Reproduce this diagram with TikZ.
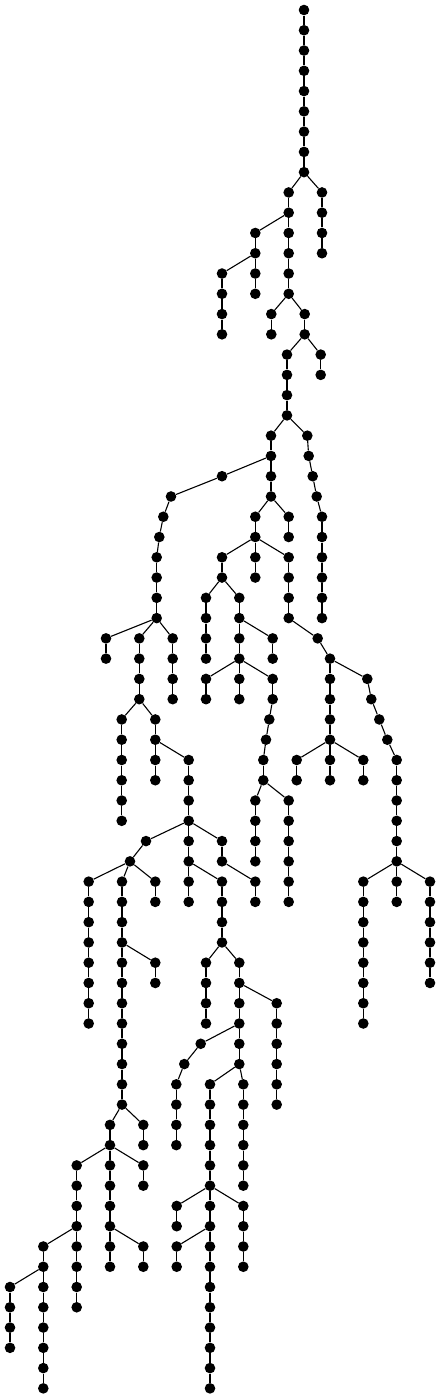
\documentclass[tikz,border=0pt]{standalone}
\tikzset{dot/.style={circle,fill=black,draw=none,inner sep=0pt,minimum size=10.6pt},
  edge/.style={line width=1.1pt,black}}
\newcommand\chain[4]{%
  \foreach \lv in {#3,...,#4}{%
    \node[dot] (L\lv X#1) at (#2,{10+20.27*\lv}) {};
    \ifnum\lv>#3\relax
      \pgfmathtruncatemacro\lq{\lv-1}%
      \draw[edge] (L\lq X#1) -- (L\lv X#1);
    \fi
  }%
}
\newcommand\br[2]{\draw[edge] (#1) -- (#2);}
\begin{document}
\begin{tikzpicture}[x=1pt,y=-1pt]
\useasboundingbox (0,0) rectangle (440,1398);
\chain{304}{304}{0}{8}
\chain{289}{288.7}{9}{14}
\chain{322}{322}{9}{12}
\chain{255}{255.3}{11}{14}
\chain{222}{222}{13}{16}
\chain{271}{271.3}{15}{16}
\chain{305}{304.7}{15}{16}
\chain{287}{287}{17}{20}
\chain{321}{320.7}{17}{18}
\chain{271}{271}{21}{24}
\chain{307}{307.3}{21}{21}
\chain{309}{308.7}{22}{22}
\chain{313}{312.7}{23}{23}
\chain{317}{316.7}{24}{24}
\chain{322}{322}{25}{30}
\chain{222}{222}{23}{23}
\chain{171}{171}{24}{24}
\chain{163}{163.3}{25}{25}
\chain{159}{159.3}{26}{26}
\chain{157}{156.7}{27}{30}
\chain{255}{255.3}{25}{28}
\chain{289}{288.7}{25}{26}
\chain{222}{222}{27}{28}
\chain{289}{288.7}{27}{30}
\chain{206}{206}{29}{32}
\chain{239}{239.3}{29}{34}
\chain{106}{106}{31}{32}
\chain{139}{139.3}{31}{34}
\chain{173}{172.7}{31}{34}
\chain{273}{272.7}{31}{32}
\chain{318}{317.7}{31}{31}
\chain{330}{330}{32}{38}
\chain{206}{206}{33}{34}
\chain{273}{272.7}{33}{34}
\chain{367}{367.3}{33}{33}
\chain{371}{371.3}{34}{34}
\chain{379}{379.3}{35}{35}
\chain{387}{387.3}{36}{36}
\chain{397}{396.7}{37}{44}
\chain{122}{121.7}{35}{40}
\chain{155}{155.3}{35}{38}
\chain{269}{269.3}{35}{35}
\chain{266}{266}{36}{36}
\chain{263}{263.3}{37}{38}
\chain{189}{188.7}{37}{44}
\chain{297}{296.7}{37}{38}
\chain{363}{363.3}{37}{38}
\chain{255}{255.3}{39}{42}
\chain{289}{288.7}{39}{44}
\chain{146}{146}{41}{41}
\chain{130}{130}{42}{42}
\chain{222}{222}{41}{42}
\chain{89}{88.7}{43}{50}
\chain{122}{122}{43}{54}
\chain{155}{155.3}{43}{44}
\chain{222}{222}{43}{46}
\chain{255}{255.3}{43}{44}
\chain{363}{363.3}{43}{50}
\chain{430}{430}{43}{48}
\chain{155}{155.3}{47}{48}
\chain{206}{206}{47}{50}
\chain{239}{239.3}{47}{52}
\chain{277}{276.7}{49}{54}
\chain{201}{200.7}{51}{51}
\chain{184}{184.3}{52}{52}
\chain{176}{176.3}{53}{56}
\chain{210}{210}{53}{68}
\chain{243}{243.3}{53}{58}
\chain{110}{110}{55}{62}
\chain{143}{143.3}{55}{56}
\chain{77}{76.7}{57}{64}
\chain{143}{143.3}{57}{58}
\chain{177}{176.7}{59}{60}
\chain{243}{243.3}{59}{62}
\chain{43}{43.3}{61}{68}
\chain{143}{143.3}{61}{62}
\chain{177}{176.7}{61}{62}
\chain{10}{10}{63}{66}
% branch edges
\br{L8X304}{L9X289}\br{L8X304}{L9X322}
\br{L10X289}{L11X255}
\br{L12X255}{L13X222}
\br{L14X289}{L15X271}\br{L14X289}{L15X305}
\br{L16X305}{L17X287}\br{L16X305}{L17X321}
\br{L20X287}{L21X271}\br{L20X287}{L21X307}
\br{L21X307}{L22X309}\br{L22X309}{L23X313}\br{L23X313}{L24X317}\br{L24X317}{L25X322}
\br{L22X271}{L23X222}\br{L23X222}{L24X171}\br{L24X171}{L25X163}\br{L25X163}{L26X159}\br{L26X159}{L27X157}
\br{L24X271}{L25X255}\br{L24X271}{L25X289}
\br{L26X255}{L27X222}\br{L26X255}{L27X289}
\br{L28X222}{L29X206}\br{L28X222}{L29X239}
\br{L30X157}{L31X106}\br{L30X157}{L31X139}\br{L30X157}{L31X173}
\br{L30X239}{L31X273}
\br{L30X289}{L31X318}\br{L31X318}{L32X330}
\br{L32X239}{L33X206}\br{L32X239}{L33X273}
\br{L32X330}{L33X367}\br{L33X367}{L34X371}\br{L34X371}{L35X379}\br{L35X379}{L36X387}\br{L36X387}{L37X397}
\br{L34X139}{L35X122}\br{L34X139}{L35X155}
\br{L34X273}{L35X269}\br{L35X269}{L36X266}\br{L36X266}{L37X263}
\br{L36X155}{L37X189}
\br{L36X330}{L37X297}\br{L36X330}{L37X363}
\br{L38X263}{L39X255}\br{L38X263}{L39X289}
\br{L40X189}{L41X146}\br{L40X189}{L41X222}
\br{L41X146}{L42X130}
\br{L42X130}{L43X89}\br{L42X130}{L43X122}\br{L42X130}{L43X155}
\br{L42X189}{L43X222}
\br{L42X222}{L43X255}
\br{L42X397}{L43X363}\br{L42X397}{L43X430}
\br{L46X122}{L47X155}
\br{L46X222}{L47X206}\br{L46X222}{L47X239}
\br{L48X239}{L49X277}
\br{L50X239}{L51X201}\br{L51X201}{L52X184}\br{L52X184}{L53X176}
\br{L52X239}{L53X210}\br{L52X239}{L53X243}
\br{L54X122}{L55X110}\br{L54X122}{L55X143}
\br{L56X110}{L57X77}\br{L56X110}{L57X143}
\br{L58X210}{L59X177}\br{L58X210}{L59X243}
\br{L60X77}{L61X43}
\br{L60X110}{L61X143}
\br{L60X210}{L61X177}
\br{L62X43}{L63X10}
\end{tikzpicture}
\end{document}
